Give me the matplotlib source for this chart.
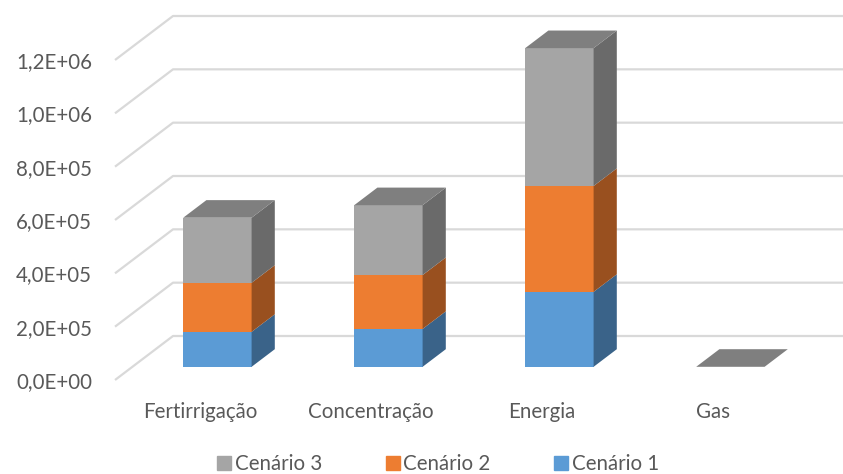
import matplotlib.pyplot as plt
from matplotlib.patches import Patch

categorias = ["Fertirrigação", "Concentração", "Energia", "Gas"]
cenario1 = [131e3, 142e3, 281e3, 0]
cenario2 = [184e3, 202e3, 397e3, 0]
cenario3 = [244e3, 262e3, 517e3, 0]
yticks = [0, 2e5, 4e5, 6e5, 8e5, 1.0e6, 1.2e6]
ytick_labels = ["0,0E+00", "2,0E+05", "4,0E+05", "6,0E+05", "8,0E+05", "1,0E+06", "1,2E+06"]

series = [
    ("Cenário 1", cenario1, "#5b9bd5", "#3a6389"),
    ("Cenário 2", cenario2, "#ed7d31", "#99501f"),
    ("Cenário 3", cenario3, "#a5a5a5", "#6a6a6a"),
]
top_color = "#7f7f7f"
grid_color = "#d9d9d9"
text_color = "#595959"
fs = 14.8

plt.rcParams["font.family"] = ["Lato", "DejaVu Sans"]

# oblique projection: full depth of the floor in data units
DX = 58 / 171
DY = 165e3
bar_w = 0.40
d0, d1 = 0.30, 0.70   # bar position inside the depth

fig = plt.figure(figsize=(8.43, 4.74), dpi=100)
ax = fig.add_axes([0, 0, 1, 1])
ax.set_xlim(-200 / 171, -200 / 171 + 843 / 171)
ax.set_ylim(-352.5e3, 1425e3)
ax.axis("off")

# back wall gridlines with their diagonal floor lead-in
x_wall = -0.497
for v, lab in zip(yticks, ytick_labels):
    ax.plot([x_wall, x_wall + DX, 10], [v, v + DY, v + DY],
            color=grid_color, lw=1.6, zorder=1, solid_capstyle="butt")
    ax.text(x_wall - 0.135, v, lab, ha="right", va="center_baseline",
            fontsize=fs, color=text_color)

# stacked 3d columns
for i in range(len(categorias)):
    x0 = i + d0 * DX - bar_w / 2
    x1 = x0 + bar_w
    base = d0 * DY
    bottom = 0
    for name, vals, front, side in series:
        v = vals[i]
        ax.bar(x0, v, width=bar_w, bottom=base + bottom, align="edge",
               color=front, lw=0, zorder=3)
        sx = [x1, x1 + (d1 - d0) * DX, x1 + (d1 - d0) * DX, x1]
        sy = [base + bottom, base + bottom + (d1 - d0) * DY,
              base + bottom + v + (d1 - d0) * DY, base + bottom + v]
        ax.fill(sx, sy, color=side, lw=0, zorder=3)
        bottom += v
    top = base + bottom
    tx = [x0, x1, x1 + (d1 - d0) * DX, x0 + (d1 - d0) * DX]
    ty = [top, top, top + (d1 - d0) * DY, top + (d1 - d0) * DY]
    ax.fill(tx, ty, color=top_color, lw=0, zorder=4)

# category labels along the front edge of the floor
for i, cat in enumerate(categorias):
    ax.text(i, -120e3, cat, ha="center", va="center",
            fontsize=fs, color=text_color)

handles = [Patch(color=c, label=n) for n, _, c, _ in reversed(series)]
fig.legend(handles=handles, loc="center", bbox_to_anchor=(438 / 843, 1 - 464 / 474),
           ncol=3, frameon=False, fontsize=fs, labelcolor=text_color,
           handlelength=0.68, handleheight=0.68, handletextpad=0.18,
           columnspacing=3.1, borderpad=0, borderaxespad=0)

fig.savefig("out.png", dpi=100)
